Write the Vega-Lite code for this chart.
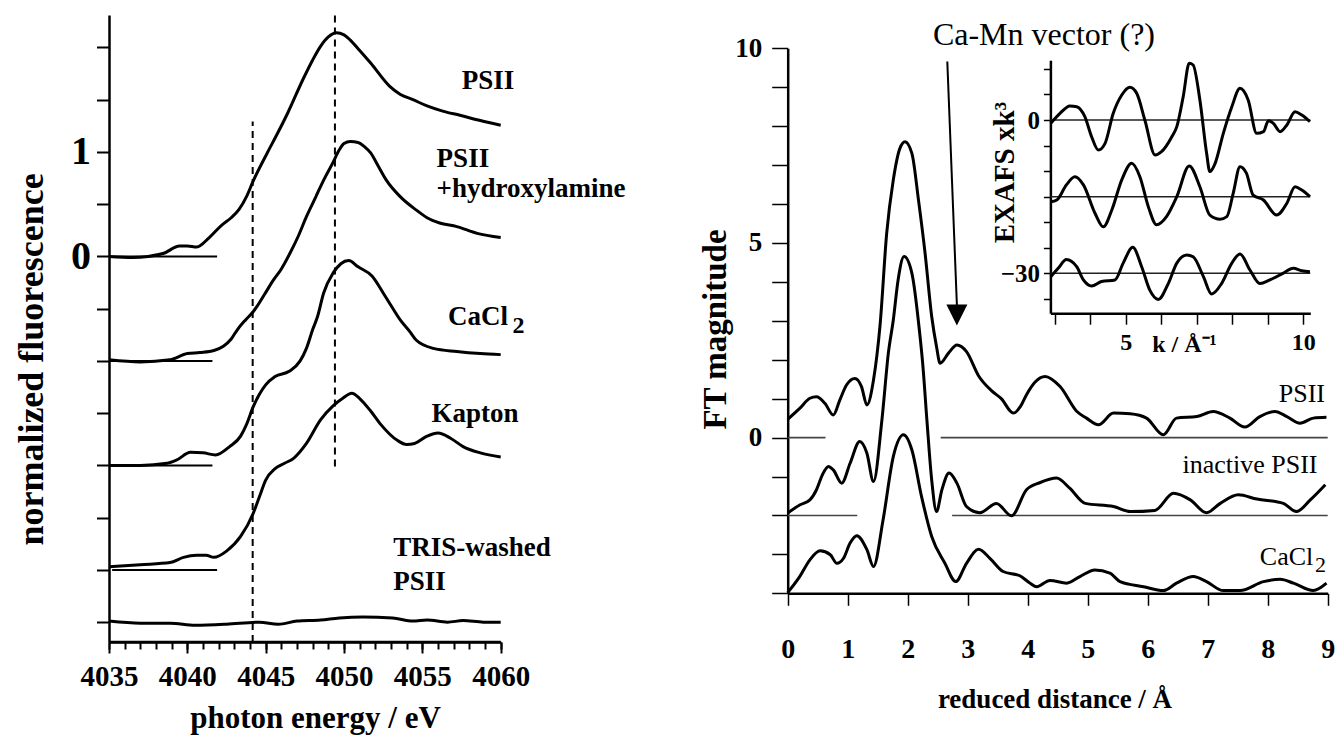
{
  "$schema": "https://vega.github.io/schema/vega-lite/v6.json",
  "width": 1336,
  "height": 736,
  "autosize": {"type": "none"},
  "padding": 0,
  "background": "white",
  "config": {
    "view": {"stroke": null},
    "font": "Liberation Serif",
    "axis": {
      "labelFont": "Liberation Serif", "titleFont": "Liberation Serif",
      "labelColor": "black", "titleColor": "black", "tickColor": "black", "domainColor": "black",
      "grid": false, "labelFontWeight": "bold", "titleFontWeight": "bold",
      "labelOverlap": false, "labelFlush": false, "labelBound": false
    }
  },
  "datasets": {
    "xanes": [
      {"s":"PSII","E":4035.0,"v":0.00},{"s":"PSII","E":4036.5,"v":-0.01},{"s":"PSII","E":4037.5,"v":0.00},{"s":"PSII","E":4038.5,"v":0.03},{"s":"PSII","E":4039.5,"v":0.10},{"s":"PSII","E":4040.0,"v":0.10},{"s":"PSII","E":4040.6,"v":0.09},{"s":"PSII","E":4041.4,"v":0.18},{"s":"PSII","E":4042.2,"v":0.30},{"s":"PSII","E":4042.8,"v":0.37},{"s":"PSII","E":4043.3,"v":0.45},{"s":"PSII","E":4043.8,"v":0.58},{"s":"PSII","E":4044.2,"v":0.72},{"s":"PSII","E":4045.1,"v":0.99},{"s":"PSII","E":4045.8,"v":1.19},{"s":"PSII","E":4046.4,"v":1.37},{"s":"PSII","E":4047.4,"v":1.70},{"s":"PSII","E":4048.0,"v":1.88},{"s":"PSII","E":4048.5,"v":2.01},{"s":"PSII","E":4049.0,"v":2.10},{"s":"PSII","E":4049.5,"v":2.14},{"s":"PSII","E":4050.0,"v":2.12},{"s":"PSII","E":4050.4,"v":2.07},{"s":"PSII","E":4051.0,"v":1.97},{"s":"PSII","E":4051.7,"v":1.85},{"s":"PSII","E":4052.9,"v":1.63},{"s":"PSII","E":4053.6,"v":1.55},{"s":"PSII","E":4054.4,"v":1.50},{"s":"PSII","E":4055.3,"v":1.44},{"s":"PSII","E":4056.3,"v":1.39},{"s":"PSII","E":4057.4,"v":1.35},{"s":"PSII","E":4058.7,"v":1.30},{"s":"PSII","E":4060.0,"v":1.255},
      {"s":"NH2OH","E":4035.0,"v":-0.99},{"s":"NH2OH","E":4037.0,"v":-1.01},{"s":"NH2OH","E":4038.9,"v":-0.99},{"s":"NH2OH","E":4040.0,"v":-0.93},{"s":"NH2OH","E":4040.8,"v":-0.92},{"s":"NH2OH","E":4041.7,"v":-0.90},{"s":"NH2OH","E":4042.3,"v":-0.86},{"s":"NH2OH","E":4042.8,"v":-0.79},{"s":"NH2OH","E":4043.2,"v":-0.70},{"s":"NH2OH","E":4043.7,"v":-0.61},{"s":"NH2OH","E":4044.2,"v":-0.53},{"s":"NH2OH","E":4044.9,"v":-0.37},{"s":"NH2OH","E":4045.5,"v":-0.225},{"s":"NH2OH","E":4046.0,"v":-0.12},{"s":"NH2OH","E":4046.55,"v":0.03},{"s":"NH2OH","E":4047.1,"v":0.20},{"s":"NH2OH","E":4047.6,"v":0.38},{"s":"NH2OH","E":4048.2,"v":0.57},{"s":"NH2OH","E":4048.7,"v":0.73},{"s":"NH2OH","E":4049.3,"v":0.90},{"s":"NH2OH","E":4049.7,"v":1.02},{"s":"NH2OH","E":4050.0,"v":1.08},{"s":"NH2OH","E":4050.4,"v":1.10},{"s":"NH2OH","E":4050.9,"v":1.09},{"s":"NH2OH","E":4051.3,"v":1.05},{"s":"NH2OH","E":4051.7,"v":0.99},{"s":"NH2OH","E":4052.2,"v":0.86},{"s":"NH2OH","E":4052.7,"v":0.73},{"s":"NH2OH","E":4053.6,"v":0.57},{"s":"NH2OH","E":4054.6,"v":0.445},{"s":"NH2OH","E":4055.3,"v":0.37},{"s":"NH2OH","E":4056.1,"v":0.32},{"s":"NH2OH","E":4057.2,"v":0.285},{"s":"NH2OH","E":4058.5,"v":0.22},{"s":"NH2OH","E":4060.0,"v":0.18},
      {"s":"CaCl2","E":4035.0,"v":-2.00},{"s":"CaCl2","E":4037.0,"v":-2.00},{"s":"CaCl2","E":4038.7,"v":-1.98},{"s":"CaCl2","E":4039.3,"v":-1.95},{"s":"CaCl2","E":4040.2,"v":-1.875},{"s":"CaCl2","E":4041.0,"v":-1.88},{"s":"CaCl2","E":4041.8,"v":-1.90},{"s":"CaCl2","E":4042.7,"v":-1.82},{"s":"CaCl2","E":4043.4,"v":-1.72},{"s":"CaCl2","E":4043.8,"v":-1.60},{"s":"CaCl2","E":4044.2,"v":-1.44},{"s":"CaCl2","E":4044.6,"v":-1.32},{"s":"CaCl2","E":4045.0,"v":-1.23},{"s":"CaCl2","E":4045.6,"v":-1.15},{"s":"CaCl2","E":4046.5,"v":-1.10},{"s":"CaCl2","E":4047.2,"v":-1.00},{"s":"CaCl2","E":4047.6,"v":-0.88},{"s":"CaCl2","E":4048.0,"v":-0.70},{"s":"CaCl2","E":4048.3,"v":-0.58},{"s":"CaCl2","E":4048.7,"v":-0.35},{"s":"CaCl2","E":4049.3,"v":-0.16},{"s":"CaCl2","E":4049.8,"v":-0.07},{"s":"CaCl2","E":4050.3,"v":-0.04},{"s":"CaCl2","E":4050.9,"v":-0.10},{"s":"CaCl2","E":4051.8,"v":-0.19},{"s":"CaCl2","E":4052.5,"v":-0.35},{"s":"CaCl2","E":4053.0,"v":-0.47},{"s":"CaCl2","E":4053.6,"v":-0.61},{"s":"CaCl2","E":4054.2,"v":-0.72},{"s":"CaCl2","E":4054.6,"v":-0.80},{"s":"CaCl2","E":4055.7,"v":-0.88},{"s":"CaCl2","E":4057.2,"v":-0.91},{"s":"CaCl2","E":4058.7,"v":-0.93},{"s":"CaCl2","E":4060.0,"v":-0.94},
      {"s":"Kapton","E":4035.0,"v":-2.97},{"s":"Kapton","E":4037.0,"v":-2.95},{"s":"Kapton","E":4038.9,"v":-2.93},{"s":"Kapton","E":4039.75,"v":-2.88},{"s":"Kapton","E":4040.6,"v":-2.86},{"s":"Kapton","E":4041.2,"v":-2.86},{"s":"Kapton","E":4041.7,"v":-2.88},{"s":"Kapton","E":4042.5,"v":-2.82},{"s":"Kapton","E":4043.4,"v":-2.68},{"s":"Kapton","E":4044.2,"v":-2.46},{"s":"Kapton","E":4044.6,"v":-2.30},{"s":"Kapton","E":4045.0,"v":-2.14},{"s":"Kapton","E":4045.6,"v":-2.03},{"s":"Kapton","E":4046.2,"v":-1.98},{"s":"Kapton","E":4046.8,"v":-1.93},{"s":"Kapton","E":4047.6,"v":-1.79},{"s":"Kapton","E":4048.5,"v":-1.565},{"s":"Kapton","E":4049.3,"v":-1.43},{"s":"Kapton","E":4049.9,"v":-1.36},{"s":"Kapton","E":4050.5,"v":-1.31},{"s":"Kapton","E":4051.0,"v":-1.36},{"s":"Kapton","E":4051.7,"v":-1.48},{"s":"Kapton","E":4052.3,"v":-1.60},{"s":"Kapton","E":4053.4,"v":-1.76},{"s":"Kapton","E":4054.0,"v":-1.80},{"s":"Kapton","E":4054.5,"v":-1.79},{"s":"Kapton","E":4055.3,"v":-1.72},{"s":"Kapton","E":4056.0,"v":-1.69},{"s":"Kapton","E":4056.8,"v":-1.74},{"s":"Kapton","E":4057.6,"v":-1.82},{"s":"Kapton","E":4058.7,"v":-1.88},{"s":"Kapton","E":4060.0,"v":-1.92},
      {"s":"TRIS","E":4035.0,"v":-3.49},{"s":"TRIS","E":4037.0,"v":-3.51},{"s":"TRIS","E":4038.9,"v":-3.51},{"s":"TRIS","E":4040.5,"v":-3.53},{"s":"TRIS","E":4042.5,"v":-3.52},{"s":"TRIS","E":4044.6,"v":-3.50},{"s":"TRIS","E":4045.8,"v":-3.52},{"s":"TRIS","E":4047.0,"v":-3.49},{"s":"TRIS","E":4048.5,"v":-3.48},{"s":"TRIS","E":4049.7,"v":-3.46},{"s":"TRIS","E":4051.2,"v":-3.45},{"s":"TRIS","E":4053.1,"v":-3.46},{"s":"TRIS","E":4054.4,"v":-3.49},{"s":"TRIS","E":4055.3,"v":-3.48},{"s":"TRIS","E":4056.6,"v":-3.50},{"s":"TRIS","E":4057.6,"v":-3.485},{"s":"TRIS","E":4058.9,"v":-3.50},{"s":"TRIS","E":4060.0,"v":-3.50}
    ],
    "xanesBase": [
      {"E1":4035.0,"E2":4041.9,"v":0},{"E1":4035.0,"E2":4041.6,"v":-1},{"E1":4035.0,"E2":4041.6,"v":-2},{"E1":4035.2,"E2":4041.9,"v":-3}
    ],
    "xanesFrame": [
      {"E1":4035.0,"E2":4060.0,"v":-3.69}
    ],
    "xanesDash": [
      {"E":4044.17,"v1":-3.69,"v2":1.29},{"E":4049.42,"v1":-2.01,"v2":2.31}
    ],
    "xanesLab": [
      {"t":"PSII","E":4057.51,"v":1.60},
      {"t":"PSII","E":4055.91,"v":0.859},
      {"t":"+hydroxylamine","E":4055.91,"v":0.572},
      {"t":"CaCl","E":4056.63,"v":-0.656},
      {"t":"Kapton","E":4055.59,"v":-1.58},
      {"t":"TRIS-washed","E":4053.14,"v":-2.866},
      {"t":"PSII","E":4053.14,"v":-3.19}
    ],
    "xanesSub": [
      {"t":"2","E":4060.75,"v":-0.735}
    ],
    "ft": [
      {"s":"PSII","r":0.00,"v":0.47},{"s":"PSII","r":0.20,"v":0.75},{"s":"PSII","r":0.37,"v":1.01},{"s":"PSII","r":0.48,"v":1.05},{"s":"PSII","r":0.62,"v":0.88},{"s":"PSII","r":0.76,"v":0.58},{"s":"PSII","r":0.87,"v":0.97},{"s":"PSII","r":0.98,"v":1.35},{"s":"PSII","r":1.12,"v":1.52},{"s":"PSII","r":1.23,"v":1.31},{"s":"PSII","r":1.32,"v":0.84},{"s":"PSII","r":1.43,"v":1.48},{"s":"PSII","r":1.54,"v":2.90},{"s":"PSII","r":1.65,"v":5.25},{"s":"PSII","r":1.76,"v":6.62},{"s":"PSII","r":1.87,"v":7.43},{"s":"PSII","r":1.955,"v":7.60},{"s":"PSII","r":2.07,"v":7.30},{"s":"PSII","r":2.18,"v":6.10},{"s":"PSII","r":2.29,"v":4.73},{"s":"PSII","r":2.40,"v":3.11},{"s":"PSII","r":2.48,"v":2.34},{"s":"PSII","r":2.54,"v":1.91},{"s":"PSII","r":2.68,"v":2.17},{"s":"PSII","r":2.82,"v":2.38},{"s":"PSII","r":2.98,"v":2.21},{"s":"PSII","r":3.18,"v":1.59},{"s":"PSII","r":3.40,"v":1.20},{"s":"PSII","r":3.56,"v":1.00},{"s":"PSII","r":3.76,"v":0.63},{"s":"PSII","r":3.88,"v":0.80},{"s":"PSII","r":3.98,"v":1.10},{"s":"PSII","r":4.12,"v":1.42},{"s":"PSII","r":4.29,"v":1.57},{"s":"PSII","r":4.54,"v":1.31},{"s":"PSII","r":4.82,"v":0.67},{"s":"PSII","r":4.98,"v":0.50},{"s":"PSII","r":5.18,"v":0.33},{"s":"PSII","r":5.43,"v":0.63},{"s":"PSII","r":5.71,"v":0.61},{"s":"PSII","r":5.98,"v":0.50},{"s":"PSII","r":6.26,"v":0.07},{"s":"PSII","r":6.48,"v":0.50},{"s":"PSII","r":6.82,"v":0.54},{"s":"PSII","r":7.09,"v":0.67},{"s":"PSII","r":7.37,"v":0.50},{"s":"PSII","r":7.62,"v":0.27},{"s":"PSII","r":7.87,"v":0.54},{"s":"PSII","r":8.12,"v":0.67},{"s":"PSII","r":8.32,"v":0.54},{"s":"PSII","r":8.54,"v":0.37},{"s":"PSII","r":8.76,"v":0.50},{"s":"PSII","r":8.98,"v":0.52},
      {"s":"inactive","r":0.00,"v":-1.94},{"s":"inactive","r":0.20,"v":-1.73},{"s":"inactive","r":0.37,"v":-1.60},{"s":"inactive","r":0.48,"v":-1.34},{"s":"inactive","r":0.58,"v":-0.95},{"s":"inactive","r":0.68,"v":-0.74},{"s":"inactive","r":0.76,"v":-0.83},{"s":"inactive","r":0.90,"v":-1.17},{"s":"inactive","r":1.04,"v":-0.66},{"s":"inactive","r":1.20,"v":-0.10},{"s":"inactive","r":1.32,"v":-0.40},{"s":"inactive","r":1.43,"v":-1.13},{"s":"inactive","r":1.57,"v":0.45},{"s":"inactive","r":1.68,"v":2.20},{"s":"inactive","r":1.76,"v":3.02},{"s":"inactive","r":1.84,"v":4.05},{"s":"inactive","r":1.94,"v":4.65},{"s":"inactive","r":2.07,"v":4.22},{"s":"inactive","r":2.20,"v":2.68},{"s":"inactive","r":2.25,"v":1.90},{"s":"inactive","r":2.32,"v":0.45},{"s":"inactive","r":2.40,"v":-1.09},{"s":"inactive","r":2.48,"v":-1.90},{"s":"inactive","r":2.57,"v":-1.34},{"s":"inactive","r":2.69,"v":-0.91},{"s":"inactive","r":2.82,"v":-1.17},{"s":"inactive","r":2.98,"v":-1.77},{"s":"inactive","r":3.20,"v":-1.93},{"s":"inactive","r":3.48,"v":-1.69},{"s":"inactive","r":3.73,"v":-2.01},{"s":"inactive","r":3.98,"v":-1.34},{"s":"inactive","r":4.20,"v":-1.16},{"s":"inactive","r":4.48,"v":-1.04},{"s":"inactive","r":4.70,"v":-1.30},{"s":"inactive","r":4.96,"v":-1.69},{"s":"inactive","r":5.43,"v":-1.77},{"s":"inactive","r":5.71,"v":-1.90},{"s":"inactive","r":6.12,"v":-1.87},{"s":"inactive","r":6.43,"v":-1.43},{"s":"inactive","r":6.71,"v":-1.60},{"s":"inactive","r":6.98,"v":-1.93},{"s":"inactive","r":7.21,"v":-1.69},{"s":"inactive","r":7.51,"v":-1.47},{"s":"inactive","r":7.82,"v":-1.58},{"s":"inactive","r":8.26,"v":-1.69},{"s":"inactive","r":8.48,"v":-1.90},{"s":"inactive","r":8.71,"v":-1.60},{"s":"inactive","r":8.96,"v":-1.21},
      {"s":"CaCl2","r":0.00,"v":-3.98},{"s":"CaCl2","r":0.20,"v":-3.57},{"s":"CaCl2","r":0.37,"v":-3.14},{"s":"CaCl2","r":0.54,"v":-2.91},{"s":"CaCl2","r":0.71,"v":-3.01},{"s":"CaCl2","r":0.82,"v":-3.23},{"s":"CaCl2","r":0.93,"v":-3.10},{"s":"CaCl2","r":1.04,"v":-2.71},{"s":"CaCl2","r":1.15,"v":-2.52},{"s":"CaCl2","r":1.32,"v":-2.88},{"s":"CaCl2","r":1.43,"v":-3.31},{"s":"CaCl2","r":1.59,"v":-2.11},{"s":"CaCl2","r":1.76,"v":-0.49},{"s":"CaCl2","r":1.93,"v":0.07},{"s":"CaCl2","r":2.07,"v":-0.32},{"s":"CaCl2","r":2.23,"v":-1.51},{"s":"CaCl2","r":2.40,"v":-2.54},{"s":"CaCl2","r":2.62,"v":-3.23},{"s":"CaCl2","r":2.80,"v":-3.70},{"s":"CaCl2","r":2.98,"v":-3.23},{"s":"CaCl2","r":3.18,"v":-2.87},{"s":"CaCl2","r":3.37,"v":-3.10},{"s":"CaCl2","r":3.59,"v":-3.44},{"s":"CaCl2","r":3.87,"v":-3.55},{"s":"CaCl2","r":4.04,"v":-3.74},{"s":"CaCl2","r":4.15,"v":-3.83},{"s":"CaCl2","r":4.37,"v":-3.67},{"s":"CaCl2","r":4.65,"v":-3.74},{"s":"CaCl2","r":4.87,"v":-3.57},{"s":"CaCl2","r":5.12,"v":-3.40},{"s":"CaCl2","r":5.37,"v":-3.48},{"s":"CaCl2","r":5.54,"v":-3.70},{"s":"CaCl2","r":5.93,"v":-3.83},{"s":"CaCl2","r":6.26,"v":-3.93},{"s":"CaCl2","r":6.48,"v":-3.74},{"s":"CaCl2","r":6.76,"v":-3.57},{"s":"CaCl2","r":6.98,"v":-3.70},{"s":"CaCl2","r":7.26,"v":-3.93},{"s":"CaCl2","r":7.54,"v":-3.93},{"s":"CaCl2","r":7.93,"v":-3.70},{"s":"CaCl2","r":8.21,"v":-3.64},{"s":"CaCl2","r":8.43,"v":-3.74},{"s":"CaCl2","r":8.76,"v":-3.93},{"s":"CaCl2","r":8.98,"v":-3.74}
    ],
    "ftBase": [
      {"r1":0,"r2":0.63,"v":0},{"r1":2.55,"r2":9,"v":0},{"r1":0,"r2":1.16,"v":-2},{"r1":2.74,"r2":9,"v":-2}
    ],
    "ftArrow": [{"r1":2.66,"v1":9.66,"r2":2.82,"v2":3.40}],
    "ftHead": [{"r":2.82,"v":3.15}],
    "ftLabR": [
      {"t":"PSII","r":8.955,"v":0.925},
      {"t":"inactive PSII","r":8.83,"v":-0.915},
      {"t":"CaCl","r":8.76,"v":-3.27}
    ],
    "ftSub": [{"t":"2","r":8.79,"v":-3.44}],
    "ftNote": [{"t":"Ca-Mn vector (?)","r":2.42,"v":10.08}],
    "exafs": [
      {"s":"A","k":2.89,"v":-0.65},{"s":"A","k":3.15,"v":1.3},{"s":"A","k":3.43,"v":2.74},{"s":"A","k":3.62,"v":2.6},{"s":"A","k":3.85,"v":0.65},{"s":"A","k":4.04,"v":-3.27},{"s":"A","k":4.23,"v":-5.87},{"s":"A","k":4.42,"v":-4.56},{"s":"A","k":4.65,"v":1.3},{"s":"A","k":4.89,"v":4.89},{"s":"A","k":5.12,"v":6.4},{"s":"A","k":5.31,"v":5.22},{"s":"A","k":5.54,"v":0.0},{"s":"A","k":5.83,"v":-6.85},{"s":"A","k":6.01,"v":-6.2},{"s":"A","k":6.30,"v":-3.27},{"s":"A","k":6.44,"v":-1.3},{"s":"A","k":6.62,"v":4.56},{"s":"A","k":6.79,"v":11.1},{"s":"A","k":6.90,"v":10.76},{"s":"A","k":7.09,"v":3.91},{"s":"A","k":7.28,"v":-6.52},{"s":"A","k":7.37,"v":-10.1},{"s":"A","k":7.52,"v":-8.48},{"s":"A","k":7.75,"v":-2.61},{"s":"A","k":7.99,"v":2.6},{"s":"A","k":8.22,"v":6.2},{"s":"A","k":8.45,"v":3.91},{"s":"A","k":8.69,"v":-2.61},{"s":"A","k":8.88,"v":-2.28},{"s":"A","k":9.02,"v":-0.13},{"s":"A","k":9.16,"v":-0.65},{"s":"A","k":9.35,"v":-2.28},{"s":"A","k":9.54,"v":-0.98},{"s":"A","k":9.77,"v":1.63},{"s":"A","k":9.96,"v":0.98},{"s":"A","k":10.19,"v":-0.33},
      {"s":"B","k":2.89,"v":-16},{"s":"B","k":3.06,"v":-15.65},{"s":"B","k":3.33,"v":-12.7},{"s":"B","k":3.57,"v":-11.1},{"s":"B","k":3.81,"v":-12.7},{"s":"B","k":4.14,"v":-18.3},{"s":"B","k":4.37,"v":-20.9},{"s":"B","k":4.61,"v":-17.6},{"s":"B","k":4.89,"v":-11.7},{"s":"B","k":5.17,"v":-8.48},{"s":"B","k":5.40,"v":-11.1},{"s":"B","k":5.64,"v":-17.0},{"s":"B","k":5.87,"v":-20.5},{"s":"B","k":6.15,"v":-18.9},{"s":"B","k":6.44,"v":-15.0},{"s":"B","k":6.79,"v":-9.0},{"s":"B","k":7.09,"v":-13.05},{"s":"B","k":7.37,"v":-18.6},{"s":"B","k":7.66,"v":-19.4},{"s":"B","k":7.85,"v":-18.9},{"s":"B","k":8.03,"v":-14.3},{"s":"B","k":8.22,"v":-9.13},{"s":"B","k":8.40,"v":-10.4},{"s":"B","k":8.59,"v":-14.7},{"s":"B","k":8.88,"v":-15.65},{"s":"B","k":9.25,"v":-18.6},{"s":"B","k":9.54,"v":-16.3},{"s":"B","k":9.77,"v":-13.05},{"s":"B","k":9.96,"v":-13.7},{"s":"B","k":10.19,"v":-15.0},
      {"s":"C","k":2.89,"v":-30.65},{"s":"C","k":3.10,"v":-29.0},{"s":"C","k":3.33,"v":-27.3},{"s":"C","k":3.62,"v":-28.7},{"s":"C","k":3.81,"v":-31.3},{"s":"C","k":4.04,"v":-32.5},{"s":"C","k":4.32,"v":-31.6},{"s":"C","k":4.70,"v":-31.3},{"s":"C","k":4.93,"v":-28.0},{"s":"C","k":5.20,"v":-24.9},{"s":"C","k":5.45,"v":-28.7},{"s":"C","k":5.68,"v":-33.3},{"s":"C","k":5.92,"v":-35.1},{"s":"C","k":6.20,"v":-32.0},{"s":"C","k":6.44,"v":-28.0},{"s":"C","k":6.72,"v":-26.4},{"s":"C","k":6.90,"v":-26.75},{"s":"C","k":7.19,"v":-30.65},{"s":"C","k":7.42,"v":-34.05},{"s":"C","k":7.70,"v":-32.0},{"s":"C","k":7.99,"v":-28.0},{"s":"C","k":8.22,"v":-26.2},{"s":"C","k":8.50,"v":-29.35},{"s":"C","k":8.78,"v":-32.0},{"s":"C","k":9.06,"v":-31.3},{"s":"C","k":9.43,"v":-30.0},{"s":"C","k":9.72,"v":-29.0},{"s":"C","k":9.96,"v":-29.5},{"s":"C","k":10.19,"v":-29.7}
    ],
    "exafsBase": [
      {"k1":2.88,"k2":10.2,"v":0},{"k1":2.88,"k2":10.2,"v":-15},{"k1":2.88,"k2":10.2,"v":-30}
    ]
  },
  "layer": [
    {
      "layer": [
        {
          "data": {"name": "xanes"},
          "mark": {"type": "line", "color": "black", "strokeWidth": 3, "strokeJoin": "round", "interpolate": "monotone"},
          "encoding": {
            "x": {"field": "E", "type": "quantitative",
              "scale": {"domain": [4035, 4060], "range": [109, 500.7], "nice": false, "zero": false},
              "axis": {"orient": "bottom", "offset": -94, "format": "d",
                "values": [4035,4036,4037,4038,4039,4040,4041,4042,4043,4044,4045,4046,4047,4048,4049,4050,4051,4052,4053,4054,4055,4056,4057,4058,4059,4060],
                "labelExpr": "datum.value % 5 === 0 ? datum.label : ''",
                "domain": true, "ticks": true, "zindex": 2,
                "tickSize": 7, "tickWidth": 2, "tickColor": "#000000", "domainColor": "#000000", "domainWidth": 2.5, "labelFontSize": 29, "labelPadding": 13,
                "title": "photon energy / eV", "titleFontSize": 31, "titleX": 315, "titleY": 85,
                "titleBaseline": "alphabetic", "titleAlign": "center"}},
            "y": {"field": "v", "type": "quantitative",
              "scale": {"domain": [-3.69, 2.31], "range": [642, 15], "nice": false, "zero": false},
              "axis": {"orient": "left", "offset": -109,
                "values": [-3.5,-3,-2.5,-2,-1.5,-1,-0.5,0,0.5,1,1.5,2],
                "labelExpr": "datum.value === 0 ? '0' : (datum.value === 1 ? '1' : '')",
                "domain": true, "ticks": true,
                "tickSize": 12.5, "tickWidth": 2, "domainWidth": 2.5, "labelFontSize": 40, "labelPadding": 6,
                "title": "normalized fluorescence", "titleFontSize": 36, "titleX": -67, "titleY": 359,
                "titleBaseline": "alphabetic", "titleAlign": "center", "titleAngle": -90}},
            "detail": {"field": "s"}
          }
        },
        {
          "data": {"name": "xanesBase"},
          "mark": {"type": "rule", "color": "black", "strokeWidth": 2},
          "encoding": {
            "x": {"field": "E1", "type": "quantitative",
              "axis": {"orient": "bottom", "offset": -94, "values": [4035,4040,4045,4050,4055,4060], "zindex": 2,
                "tickSize": 11, "tickWidth": 2, "tickColor": "#000000", "labels": false, "domain": false, "title": null}},
            "x2": {"field": "E2"},
            "y": {"field": "v", "type": "quantitative"}
          }
        },
        {
          "data": {"name": "xanesFrame"},
          "mark": {"type": "rule", "color": "black", "strokeWidth": 2.5},
          "encoding": {
            "x": {"field": "E1", "type": "quantitative", "axis": null},
            "x2": {"field": "E2"},
            "y": {"field": "v", "type": "quantitative"}
          }
        },
        {
          "data": {"name": "xanesDash"},
          "mark": {"type": "rule", "color": "black", "strokeWidth": 2, "strokeDash": [7, 5]},
          "encoding": {
            "x": {"field": "E", "type": "quantitative", "axis": null},
            "y": {"field": "v1", "type": "quantitative"},
            "y2": {"field": "v2"}
          }
        },
        {
          "data": {"name": "xanesLab"},
          "mark": {"type": "text", "font": "Liberation Serif", "fontWeight": "bold", "fontSize": 27, "align": "left", "baseline": "alphabetic", "color": "black"},
          "encoding": {
            "x": {"field": "E", "type": "quantitative", "axis": null},
            "y": {"field": "v", "type": "quantitative"},
            "text": {"field": "t"}
          }
        },
        {
          "data": {"name": "xanesSub"},
          "mark": {"type": "text", "font": "Liberation Serif", "fontWeight": "bold", "fontSize": 24, "align": "left", "baseline": "alphabetic", "color": "black"},
          "encoding": {
            "x": {"field": "E", "type": "quantitative", "axis": null},
            "y": {"field": "v", "type": "quantitative"},
            "text": {"field": "t"}
          }
        }
      ],
      "resolve": {"axis": {"x": "independent"}}
    },
    {
      "layer": [
        {
          "data": {"name": "ftBase"},
          "mark": {"type": "rule", "color": "#444444", "strokeWidth": 1.6},
          "encoding": {
            "x": {"field": "r1", "type": "quantitative",
              "scale": {"domain": [0, 9], "range": [787.7, 1327.7], "nice": false, "zero": false},
              "axis": {"orient": "bottom", "offset": -142.7, "values": [0,1,2,3,4,5,6,7,8,9], "format": "d",
                "domain": true, "ticks": true,
                "tickSize": 12, "tickWidth": 1.5, "domainWidth": 2.5, "labelFontSize": 28, "labelPadding": 30,
                "title": "reduced distance / Å", "titleFontSize": 27, "titleX": 1054.5, "titleY": 113.7,
                "titleBaseline": "alphabetic", "titleAlign": "center"}},
            "x2": {"field": "r2"},
            "y": {"field": "v", "type": "quantitative",
              "scale": {"domain": [-4, 10], "range": [593.3, 48.3], "nice": false, "zero": false},
              "axis": {"orient": "left", "offset": -787.7,
                "values": [-4,-3,-2,-1,0,1,2,3,4,5,6,7,8,9,10], "format": "d",
                "labelExpr": "datum.value === 0 || datum.value === 5 || datum.value === 10 ? datum.label : ''",
                "domain": true, "ticks": true,
                "tickSize": 16, "tickWidth": 1.5, "domainWidth": 2.5, "labelFontSize": 27, "labelPadding": 10,
                "title": "FT magnitude", "titleFontSize": 33, "titleX": -62.7, "titleY": 329,
                "titleBaseline": "alphabetic", "titleAlign": "center", "titleAngle": -90}}
          }
        },
        {
          "data": {"name": "ft"},
          "mark": {"type": "line", "color": "black", "strokeWidth": 3, "strokeJoin": "round", "interpolate": "monotone"},
          "encoding": {
            "x": {"field": "r", "type": "quantitative"},
            "y": {"field": "v", "type": "quantitative"},
            "detail": {"field": "s"}
          }
        },
        {
          "data": {"name": "ftArrow"},
          "mark": {"type": "rule", "color": "black", "strokeWidth": 2},
          "encoding": {
            "x": {"field": "r1", "type": "quantitative"},
            "x2": {"field": "r2"},
            "y": {"field": "v1", "type": "quantitative"},
            "y2": {"field": "v2"}
          }
        },
        {
          "data": {"name": "ftHead"},
          "mark": {"type": "point", "shape": "M-1,-1L1,-1L0,1Z", "filled": true, "color": "black", "opacity": 1, "size": 441},
          "encoding": {
            "x": {"field": "r", "type": "quantitative"},
            "y": {"field": "v", "type": "quantitative"}
          }
        },
        {
          "data": {"name": "ftLabR"},
          "mark": {"type": "text", "font": "Liberation Serif", "fontSize": 26, "align": "right", "baseline": "alphabetic", "color": "black"},
          "encoding": {
            "x": {"field": "r", "type": "quantitative"},
            "y": {"field": "v", "type": "quantitative"},
            "text": {"field": "t"}
          }
        },
        {
          "data": {"name": "ftSub"},
          "mark": {"type": "text", "font": "Liberation Serif", "fontSize": 22, "align": "left", "baseline": "alphabetic", "color": "black"},
          "encoding": {
            "x": {"field": "r", "type": "quantitative"},
            "y": {"field": "v", "type": "quantitative"},
            "text": {"field": "t"}
          }
        },
        {
          "data": {"name": "ftNote"},
          "mark": {"type": "text", "font": "Liberation Serif", "fontSize": 32, "align": "left", "baseline": "alphabetic", "color": "black"},
          "encoding": {
            "x": {"field": "r", "type": "quantitative"},
            "y": {"field": "v", "type": "quantitative"},
            "text": {"field": "t"}
          }
        }
      ]
    },
    {
      "layer": [
        {
          "data": {"name": "exafsBase"},
          "mark": {"type": "rule", "color": "#222222", "strokeWidth": 1.5},
          "encoding": {
            "x": {"field": "k1", "type": "quantitative",
              "scale": {"domain": [2.88, 10.2], "range": [1050.4, 1310.3], "nice": false, "zero": false},
              "axis": {"orient": "bottom", "offset": -422.8, "values": [3,4,5,6,7,8,9,10], "format": "d",
                "labelExpr": "datum.value === 5 || datum.value === 10 ? datum.label : ''",
                "domain": true, "ticks": true,
                "tickSize": 11, "tickWidth": 1.5, "domainWidth": 2.5, "labelFontSize": 24, "labelPadding": 6,
                "title": "k / Å⁻¹", "titleFontSize": 24, "titleX": 1184, "titleY": 38.7,
                "titleBaseline": "alphabetic", "titleAlign": "center"}},
            "x2": {"field": "k2"},
            "y": {"field": "v", "type": "quantitative",
              "scale": {"domain": [-37.8, 11.7], "range": [313.2, 60.2], "nice": false, "zero": false},
              "axis": {"orient": "left", "offset": -1050.4,
                "values": [-35,-30,-25,-20,-15,-10,-5,0,5,10], "format": "d",
                "labelExpr": "datum.value === 0 || datum.value === -30 ? datum.label : ''",
                "domain": true, "ticks": true,
                "tickSize": 7, "tickWidth": 1.5, "domainWidth": 2.5, "labelFontSize": 25, "labelPadding": 4,
                "title": "EXAFS xk³", "titleFontSize": 29, "titleX": -37.4, "titleY": 172,
                "titleBaseline": "alphabetic", "titleAlign": "center", "titleAngle": -90}}
          }
        },
        {
          "data": {"name": "exafs"},
          "mark": {"type": "line", "color": "black", "strokeWidth": 3, "strokeJoin": "round", "interpolate": "monotone"},
          "encoding": {
            "x": {"field": "k", "type": "quantitative"},
            "y": {"field": "v", "type": "quantitative"},
            "detail": {"field": "s"}
          }
        }
      ]
    }
  ],
  "resolve": {"scale": {"x": "independent", "y": "independent"}}
}
